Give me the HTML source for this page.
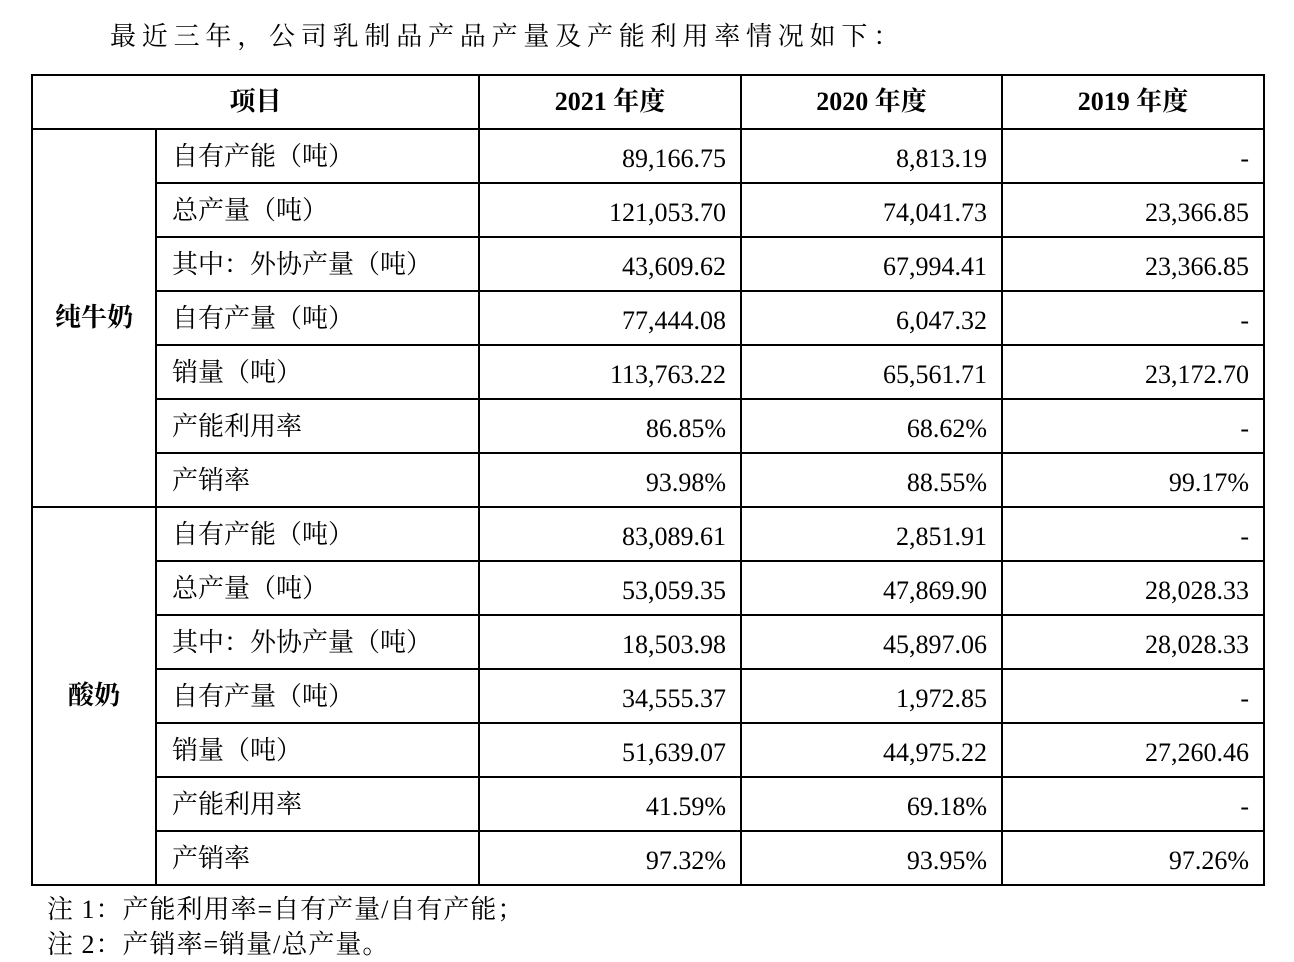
<!DOCTYPE html>
<html><head><meta charset="utf-8"><style>
body{margin:0;width:1294px;height:962px;background:#fff;position:relative;overflow:hidden;font-family:"Liberation Serif","Noto Serif CJK SC","Noto Sans CJK SC",serif;color:#000;font-feature-settings:"fwid"}
.t{position:absolute;left:110px;top:16px;font-size:26px;letter-spacing:5.8px;white-space:nowrap}
table{position:absolute;left:31px;top:74px;border-collapse:collapse;table-layout:fixed;width:1233px}
td,th{border:2px solid #000;font-size:26px;padding:0;height:52px;line-height:30px;white-space:nowrap;vertical-align:middle}
th{font-weight:bold;text-align:center}
td.l{text-align:left;padding-left:15px}
td.l span{position:relative;top:1px}
td.r{text-align:right;padding-right:14px}
td.r span{position:relative;top:3px}
td.g{font-weight:bold;text-align:center}
.n{position:absolute;left:47px;font-size:26px;letter-spacing:1px;white-space:nowrap}
</style></head><body>
<div class="t">最近三年，公司乳制品产品产量及产能利用率情况如下：</div>
<table>
<colgroup><col style="width:124px"><col style="width:323px"><col style="width:262px"><col style="width:261px"><col style="width:262px"></colgroup>
<tr><th colspan="2">项目</th><th>2021 年度</th><th>2020 年度</th><th>2019 年度</th></tr>
<tr><td class="g" rowspan="7">纯牛奶</td><td class="l"><span>自有产能（吨）</span></td><td class="r"><span>89,166.75</span></td><td class="r"><span>8,813.19</span></td><td class="r"><span>-</span></td></tr>
<tr><td class="l"><span>总产量（吨）</span></td><td class="r"><span>121,053.70</span></td><td class="r"><span>74,041.73</span></td><td class="r"><span>23,366.85</span></td></tr>
<tr><td class="l"><span>其中：外协产量（吨）</span></td><td class="r"><span>43,609.62</span></td><td class="r"><span>67,994.41</span></td><td class="r"><span>23,366.85</span></td></tr>
<tr><td class="l"><span>自有产量（吨）</span></td><td class="r"><span>77,444.08</span></td><td class="r"><span>6,047.32</span></td><td class="r"><span>-</span></td></tr>
<tr><td class="l"><span>销量（吨）</span></td><td class="r"><span>113,763.22</span></td><td class="r"><span>65,561.71</span></td><td class="r"><span>23,172.70</span></td></tr>
<tr><td class="l"><span>产能利用率</span></td><td class="r"><span>86.85%</span></td><td class="r"><span>68.62%</span></td><td class="r"><span>-</span></td></tr>
<tr><td class="l"><span>产销率</span></td><td class="r"><span>93.98%</span></td><td class="r"><span>88.55%</span></td><td class="r"><span>99.17%</span></td></tr>
<tr><td class="g" rowspan="7">酸奶</td><td class="l"><span>自有产能（吨）</span></td><td class="r"><span>83,089.61</span></td><td class="r"><span>2,851.91</span></td><td class="r"><span>-</span></td></tr>
<tr><td class="l"><span>总产量（吨）</span></td><td class="r"><span>53,059.35</span></td><td class="r"><span>47,869.90</span></td><td class="r"><span>28,028.33</span></td></tr>
<tr><td class="l"><span>其中：外协产量（吨）</span></td><td class="r"><span>18,503.98</span></td><td class="r"><span>45,897.06</span></td><td class="r"><span>28,028.33</span></td></tr>
<tr><td class="l"><span>自有产量（吨）</span></td><td class="r"><span>34,555.37</span></td><td class="r"><span>1,972.85</span></td><td class="r"><span>-</span></td></tr>
<tr><td class="l"><span>销量（吨）</span></td><td class="r"><span>51,639.07</span></td><td class="r"><span>44,975.22</span></td><td class="r"><span>27,260.46</span></td></tr>
<tr><td class="l"><span>产能利用率</span></td><td class="r"><span>41.59%</span></td><td class="r"><span>69.18%</span></td><td class="r"><span>-</span></td></tr>
<tr><td class="l"><span>产销率</span></td><td class="r"><span>97.32%</span></td><td class="r"><span>93.95%</span></td><td class="r"><span>97.26%</span></td></tr>
</table>
<div class="n" style="top:889px">注 1：产能利用率=自有产量/自有产能；</div>
<div class="n" style="top:924px">注 2：产销率=销量/总产量。</div>
</body></html>
